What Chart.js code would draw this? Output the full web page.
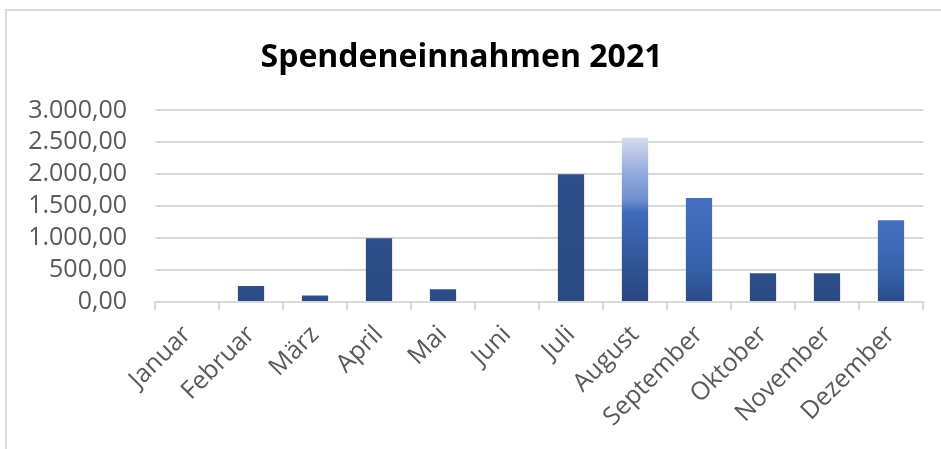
<!DOCTYPE html>
<html>
<head>
<meta charset="utf-8">
<script src="https://cdn.jsdelivr.net/npm/chart.js@4"></script>
<style>
  html, body { margin: 0; padding: 0; background: #fff; overflow: hidden; }
  #frame { position: absolute; left: 5px; top: 9px; width: 960px; height: 470px; border: 2px solid #d9d9d9; }
  #wrap { position: absolute; left: 0; top: 0; width: 941px; height: 449px; }
</style>
</head>
<body>
<div id="frame"></div>
<div id="wrap"><canvas id="chart"></canvas></div>
<script>
const months = ["Januar", "Februar", "März", "April", "Mai", "Juni", "Juli", "August", "September", "Oktober", "November", "Dezember"];
const donations = [0, 250, 100, 1000, 200, 0, 2000, 2570, 1630, 450, 450, 1280];
const yTicks = [0, 500, 1000, 1500, 2000, 2500, 3000];

function formatDe(v) {
  const parts = Number(v).toFixed(2).split(".");
  const intPart = parts[0].replace(/\B(?=(\d{3})+(?!\d))/g, ".");
  return intPart + "," + parts[1];
}

// gradient per bar, a bit like the shaded bars of the office chart
function barFill(context) {
  const chart = context.chart;
  const area = chart.chartArea;
  if (!area) return "#2c4d87";
  const y = chart.scales.y;
  const idx = context.dataIndex;
  const val = donations[idx];
  const y0 = y.getPixelForValue(0);
  const y1 = y.getPixelForValue(val || 1);
  const g = chart.ctx.createLinearGradient(0, y0, 0, y1);
  if (idx === 7) {
    g.addColorStop(0, "#2a4680");
    g.addColorStop(0.15, "#2d4f8e");
    g.addColorStop(0.55, "#3f6cbd");
    g.addColorStop(0.62, "#6f8fd0");
    g.addColorStop(0.75, "#8aa3da");
    g.addColorStop(1, "#d3dbee");
  } else if (idx === 8 || idx === 11) {
    g.addColorStop(0, "#2b4a84");
    g.addColorStop(0.3, "#3360a8");
    g.addColorStop(0.6, "#3d67b5");
    g.addColorStop(1, "#4470c0");
  } else {
    g.addColorStop(0, "#2a4a82");
    g.addColorStop(1, "#2d4e89");
  }
  return g;
}

document.addEventListener("DOMContentLoaded", function () {
  const ctx = document.getElementById("chart").getContext("2d");
  Chart.defaults.font.family = "'Open Sans', 'DejaVu Sans', sans-serif";
  Chart.defaults.color = "#595959";

  new Chart(ctx, {
    type: "bar",
    data: {
      labels: months,
      datasets: [{
        label: "Spendeneinnahmen 2021",
        data: donations,
        backgroundColor: barFill,
        borderWidth: 0,
        categoryPercentage: 1,
        barPercentage: 0.41
      }]
    },
    options: {
      responsive: true,
      maintainAspectRatio: false,
      animation: false,
      layout: { padding: { left: 0, right: 18, top: 0, bottom: 0 } },
      plugins: {
        legend: { display: false },
        tooltip: { enabled: false },
        title: {
          display: true,
          text: "Spendeneinnahmen 2021",
          color: "#000",
          font: { size: 32, weight: "bold" },
          padding: { top: 39, bottom: 33 }
        }
      },
      scales: {
        x: {
          grid: {
            offset: true,
            drawOnChartArea: false,
            drawTicks: true,
            tickLength: 8,
            color: "#d9d9d9",
            lineWidth: 2
          },
          border: { display: true, color: "#d9d9d9", width: 2 },
          ticks: {
            font: { size: 25 },
            color: "#595959",
            minRotation: 45,
            maxRotation: 45,
            padding: 10,
            autoSkip: false
          },
          afterFit: function (scale) { scale.height = 147; }
        },
        y: {
          min: 0,
          max: 3000,
          afterBuildTicks: function (scale) { scale.ticks = yTicks.map(v => ({ value: v })); },
          grid: { color: "#d9d9d9", lineWidth: 2, drawTicks: false },
          border: { display: false },
          ticks: {
            font: { size: 25 },
            color: "#595959",
            padding: 28,
            autoSkip: false,
            callback: v => formatDe(v)
          },
          afterFit: function (scale) { scale.width = 155; }
        }
      }
    }
  });
});
</script>
</body>
</html>
